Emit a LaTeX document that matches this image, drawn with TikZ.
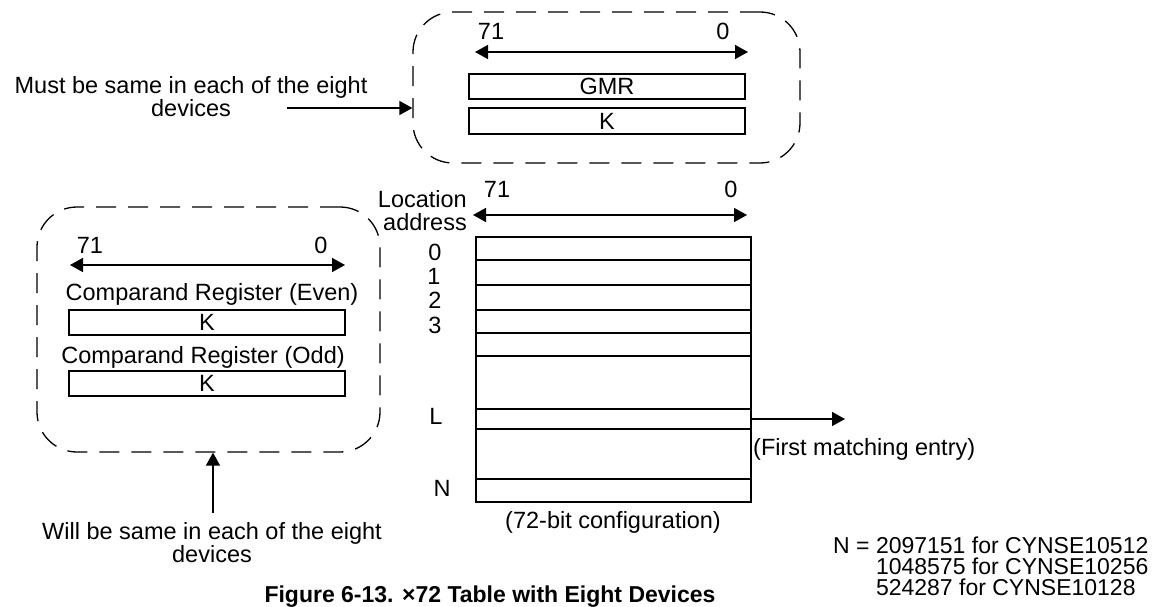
\documentclass[tikz,border=0pt]{standalone}
\usepackage{fontspec}
\setmainfont{Liberation Sans}
\usetikzlibrary{arrows.meta}
\begin{document}
\begin{tikzpicture}[x=1pt,y=-1pt,
  lbl/.style={font=\fontsize{23.5}{23}\selectfont, inner sep=0pt},
  reg/.style={draw, line width=1.8pt, minimum width=276pt, minimum height=25pt, inner sep=0pt, font=\fontsize{23.5}{23}\selectfont},
  grp/.style={draw, line width=1.3pt, dash pattern=on 20pt off 12pt, rounded corners=40pt, inner sep=0pt},
  tip/.tip={Triangle[length=13pt,width=14pt]},
  arr/.style={line width=1.6pt, -tip},
  dbl/.style={line width=1.6pt, tip-tip},
  rowbox/.style={draw, line width=1.8pt, minimum width=275pt, inner sep=0pt, outer sep=0pt},
]
\useasboundingbox (0,0) rectangle (1173,607);

% ---------- top group ----------
\node[grp, minimum width=387pt, minimum height=151pt] (topgrp) at (606.5,87.5) {};
\node[lbl, anchor=base] (t71) at (491,40) {71};
\node[lbl, anchor=base] (t0) at (723,40) {0};
\coordinate (ta) at (475,52);
\coordinate (tb) at (748,52);
\draw[dbl] (ta) -- (tb);
\node[reg] (gmr) at (607,86.5) {GMR};
\node[reg, minimum height=26pt] (tk) at (607,121) {K};

\node[lbl, anchor=base, align=center] (must) at (191,117) {Must be same in each of the eight\\devices};
\coordinate (ma) at (287,108);
\draw[arr] (ma) -- (ma -| topgrp.west);

% ---------- left group ----------
\node[grp, minimum width=343pt, minimum height=245pt] (leftgrp) at (208.5,329.5) {};
\node[lbl, anchor=base] (l71) at (90,253) {71};
\node[lbl, anchor=base] (l0) at (321,253) {0};
\coordinate (la) at (70,265);
\coordinate (lb) at (345,265);
\draw[dbl] (la) -- (lb);
\node[lbl, anchor=base] (creven) at (212,300) {Comparand Register (Even)};
\node[reg] (keven) at (207,322.5) {K};
\node[lbl, anchor=base] (crodd) at (203,363) {Comparand Register (Odd)};
\node[reg] (kodd) at (207,383.5) {K};

\coordinate (wa) at (213,513);
\draw[arr] (wa) -- (wa |- leftgrp.south);
\node[lbl, anchor=base, align=center] (will) at (212,562) {Will be same in each of the eight\\devices};

% ---------- table ----------
\node[lbl, anchor=base east, align=right] (loc) at (467,230) {Location\\address};
\node[lbl, anchor=base] (m71) at (497,197) {71};
\node[lbl, anchor=base] (m0) at (731,197) {0};
\coordinate (ma1) at (473,215);
\coordinate (mb1) at (747,215);
\draw[dbl] (ma1) -- (mb1);

\node[rowbox, minimum height=23pt] (r0) at (613.5,248.5) {};
\node[rowbox, minimum height=25pt] (r1) at (613.5,272.5) {};
\node[rowbox, minimum height=25pt] (r2) at (613.5,297.5) {};
\node[rowbox, minimum height=23pt] (r3) at (613.5,321.5) {};
\node[rowbox, minimum height=23pt] (r4) at (613.5,344.5) {};
\node[rowbox, minimum height=53pt] (g1) at (613.5,382.5) {};
\node[rowbox, minimum height=20pt] (rL) at (613.5,419) {};
\node[rowbox, minimum height=50pt] (g2) at (613.5,454) {};
\node[rowbox, minimum height=23pt] (rN) at (613.5,490.5) {};

\node[lbl] (n0) at (435,252) {0};
\node[lbl] (n1) at (434,276) {1};
\node[lbl] (n2) at (435,300) {2};
\node[lbl] (n3) at (435,325) {3};
\node[lbl] (nL) at (436,416) {L};
\node[lbl] (nN) at (442,488) {N};

\coordinate (fm) at (845,419);
\draw[arr] (rL.east) -- (fm);
\node[lbl, anchor=base west] (first) at (753,455) {(First matching entry)};
\node[lbl, anchor=base] (cfg) at (613,528) {(72-bit configuration)};

% ---------- notes ----------
\node[lbl, anchor=base west, align=left, font=\fontsize{23}{21}\selectfont] (nnote) at (833,595)
  {N = 2097151 for CYNSE10512\\\phantom{N = }1048575 for CYNSE10256\\\phantom{N = }524287 for CYNSE10128};
\node[lbl, anchor=base, font=\bfseries\fontsize{23}{23}\selectfont] (title) at (490,602)
  {Figure 6-13. ×72 Table with Eight Devices};
\end{tikzpicture}
\end{document}
